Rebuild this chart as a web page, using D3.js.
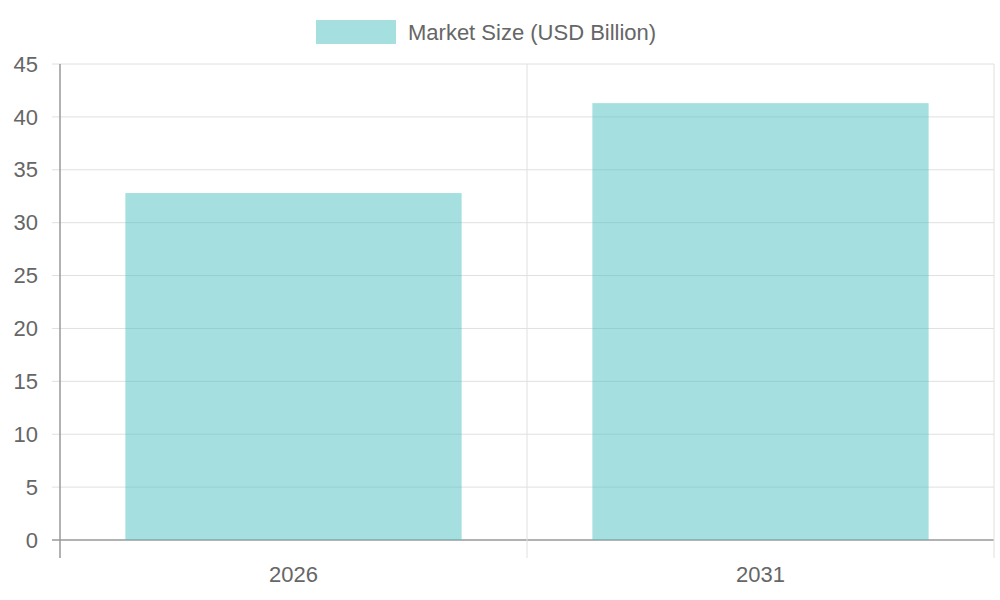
<!DOCTYPE html>
<html><head><meta charset="utf-8">
<script src="https://cdn.jsdelivr.net/npm/d3@7"></script>
<style>body{margin:0;background:#fff}</style></head>
<body><svg id="c" width="1000" height="600"></svg>
<script>
const categories = ["2026", "2031"];
const values = [32.8, 41.3];
const yTicks = [0, 5, 10, 15, 20, 25, 30, 35, 40, 45];
const seriesName = "Market Size (USD Billion)";

const svg = d3.select("#c");
const font = "Liberation Sans, Arial, sans-serif";
const L = 60, R = 994, T = 64, B = 540;
const x = d3.scaleBand().domain(categories).range([L, R]);
const y = d3.scaleLinear().domain([0, 45]).range([B, T]);

// horizontal grid
svg.selectAll("line.hg").data(yTicks).join("line")
  .attr("x1", L - 8).attr("x2", R).attr("y1", d => y(d)).attr("y2", d => y(d))
  .attr("stroke", d => d === 0 ? "#999" : "#e0e0e0").attr("stroke-width", d => d === 0 ? 1.5 : 1);
// vertical grid
const vx = [L, ...categories.map(c => x(c) + x.bandwidth())];
svg.selectAll("line.vg").data(vx).join("line")
  .attr("x1", d => d).attr("x2", d => d).attr("y1", T).attr("y2", B + 18)
  .attr("stroke", (d, i) => i === 0 ? "#999" : "#e0e0e0").attr("stroke-width", (d, i) => i === 0 ? 1.5 : 1);

// bars
const bw = x.bandwidth() * 0.72;
svg.selectAll("rect.bar").data(values).join("rect")
  .attr("x", (d, i) => x(categories[i]) + (x.bandwidth() - bw) / 2)
  .attr("width", bw).attr("y", d => y(d)).attr("height", d => B - y(d))
  .attr("fill", "rgba(75,192,192,0.5)");

// y labels
svg.selectAll("text.yl").data(yTicks).join("text")
  .attr("x", 38).attr("y", d => y(d)).attr("dy", "0.35em").attr("text-anchor", "end")
  .attr("font-family", font).attr("font-size", 22).attr("fill", "#666").text(d => d);
// x labels
svg.selectAll("text.xl").data(categories).join("text")
  .attr("x", d => x(d) + x.bandwidth() / 2).attr("y", 582).attr("text-anchor", "middle")
  .attr("font-family", font).attr("font-size", 22).attr("fill", "#666").text(d => d);

// legend
svg.append("rect").attr("x", 316).attr("y", 20).attr("width", 80).attr("height", 24)
  .attr("fill", "rgba(75,192,192,0.5)");
svg.append("text").attr("x", 408).attr("y", 32).attr("dy", "0.35em")
  .attr("font-family", font).attr("font-size", 22).attr("fill", "#666").text(seriesName);
</script></body></html>
